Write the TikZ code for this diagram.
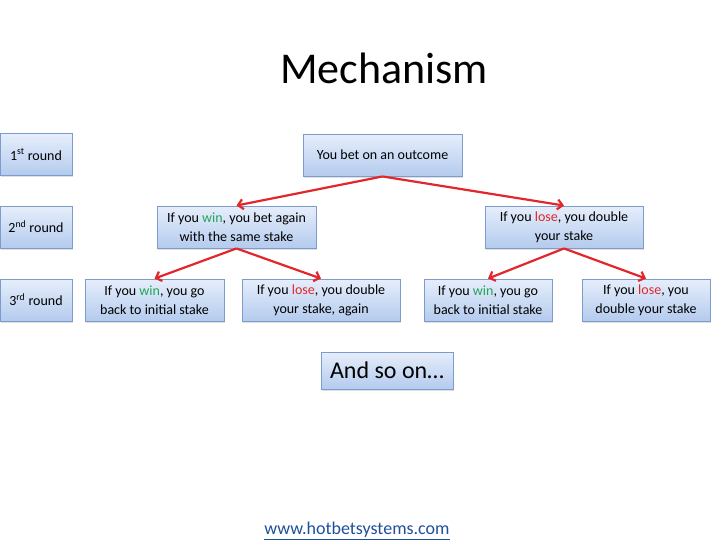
\documentclass[tikz,border=0pt]{standalone}
\usepackage{fontspec}
\setmainfont{Carlito}
\usepackage{xcolor}
\usepackage{tikz}
\usetikzlibrary{arrows.meta,shadows}
\definecolor{mechtop}{HTML}{E6EEFB}
\definecolor{mechbottom}{HTML}{B4CBEE}
\definecolor{mechborder}{HTML}{7E9CCB}
\definecolor{mechred}{HTML}{E3262B}
\definecolor{mechgreen}{HTML}{22A55A}
\definecolor{mechlink}{HTML}{1F4E9C}
\newcommand{\wintxt}{\textcolor{mechgreen}{win}}
\newcommand{\losetxt}{\textcolor{mechred}{lose}}

\begin{document}
\begin{tikzpicture}[
  x=1pt,y=-1pt,
  box/.style={draw=mechborder,line width=0.9pt,top color=mechtop,bottom color=mechbottom,
              align=center,minimum height=42pt,inner sep=2pt,font=\fontsize{14}{19}\selectfont,
              drop shadow={opacity=0.25,shadow xshift=1pt,shadow yshift=-1.5pt}},
  roundbox/.style={box,minimum width=72pt},
  branch/.style={line width=2.2pt,mechred,-{Straight Barb[length=5pt,width=10pt]}}
]
  \useasboundingbox (0,0) rectangle (728,546);

  \node[font=\fontsize{44}{48}\selectfont] (title) at (384,68) {Mechanism};

  % rounds
  \node[roundbox] (r1) at (36,154.5) {1\textsuperscript{st} round};
  \node[roundbox] (r2) at (36,227) {2\textsuperscript{nd} round};
  \node[roundbox] (r3) at (36,300) {3\textsuperscript{rd} round};

  % tree
  \node[box,minimum width=159pt] (bet) at (382.5,155) {You bet on an outcome};
  \node[box,minimum width=159pt] (win) at (236.5,227) {If you \wintxt, you bet again\\with the same stake};
  \node[box,minimum width=158pt] (lose) at (564,227) {If you \losetxt, you double\\your stake};
  \node[box,minimum width=139pt] (winwin) at (154.5,300) {If you \wintxt, you go\\back to initial stake};
  \node[box,minimum width=158pt] (winlose) at (321,300) {If you \losetxt, you double\\your stake, again};
  \node[box,minimum width=128pt] (losewin) at (488,300) {If you \wintxt, you go\\back to initial stake};
  \node[box,minimum width=128pt] (loselose) at (646,300) {If you \losetxt, you\\double your stake};

  \draw[branch] (bet.south) -- (win.north);
  \draw[branch] (bet.south) -- (lose.north);
  \draw[branch] (win.south) -- (winwin.north);
  \draw[branch] (win.south) -- (winlose.north);
  \draw[branch] (lose.south) -- (losewin.north);
  \draw[branch] (lose.south) -- (loselose.north);

  \node[box,minimum width=132pt,minimum height=37pt,font=\fontsize{24}{28}\selectfont] (more) at (387,370.5) {And so on\dots};

  \node[font=\fontsize{18}{20}\selectfont,text=mechlink] (site) at (357,531) {\underline{www.hotbetsystems.com}};
\end{tikzpicture}
\end{document}
